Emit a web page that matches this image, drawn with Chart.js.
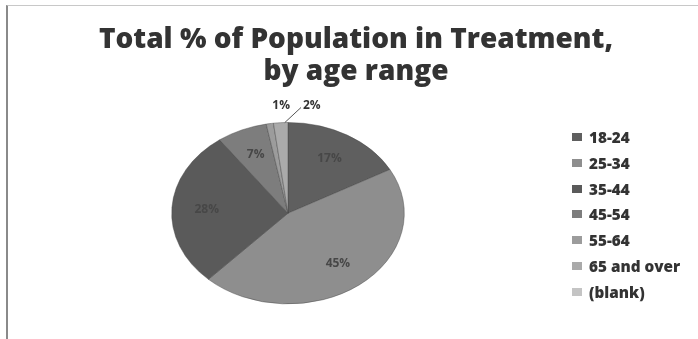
<!DOCTYPE html>
<html>
<head>
<meta charset="utf-8">
<script src="https://cdn.jsdelivr.net/npm/chart.js@4/dist/chart.umd.min.js"></script>
<style>
  html, body { margin: 0; padding: 0; background: #fff; }
  #wrap { position: relative; width: 698px; height: 339px; overflow: hidden; }
  #frame { position: absolute; left: 6px; top: 5px; width: 690px; height: 340px;
           border-left: 2px solid #8a8a8a; border-top: 1px solid #c8c8c8; }
  #legend { position: absolute; left: 572px; top: 128px; margin: 0; padding: 0; list-style: none;
            font-family: "Open Sans", sans-serif; font-weight: 800; font-size: 15.3px; color: #333; }
  #legend li { height: 25.8px; line-height: 18px; white-space: nowrap; }
  #legend span { display: inline-block; width: 10px; height: 8px; margin-right: 7px; vertical-align: 2px; }
</style>
</head>
<body>
<div id="wrap">
  <div id="frame"></div>
  <canvas id="pieChart" width="698" height="339"></canvas>
  <ul id="legend"></ul>
</div>
<script>
// --- Data ---
const ageRanges = ['18-24', '25-34', '35-44', '45-54', '55-64', '65 and over', '(blank)'];
const percentValues = [17, 45, 28, 7, 1, 2, 0];
const sliceColors = ['#5f5f5f', '#8e8e8e', '#5a5a5a', '#7d7d7d', '#9c9c9c', '#aaaaaa', '#c4c4c4'];
const titleLines = ['Total % of Population in Treatment,', 'by age range'];

const tilt = 0.78; // squash the pie vertically like the 3D Excel pie

// empty side boxes so the pie sits left of the legend, title keeps full width
function spacerBox(pos, size) {
    return {
        position: pos, weight: 0, fullSize: false, width: size, height: 0,
        options: {},
        isHorizontal() { return false; },
        update(maxWidth, maxHeight) { this.width = size; this.height = maxHeight; },
        draw() {}
    };
}
const spacerPlugin = {
    id: 'spacers',
    beforeInit(chart) {
        Chart.layouts.addBox(chart, spacerBox('left', 157));
        Chart.layouts.addBox(chart, spacerBox('right', 293));
    }
};

// squash arcs and draw percent labels
const tiltPlugin = {
    id: 'tilt',
    beforeDatasetsDraw(chart) {
        const arc = chart.getDatasetMeta(0).data[0];
        const ctx = chart.ctx;
        ctx.save();
        ctx.translate(arc.x, arc.y);
        ctx.scale(1, tilt);
        ctx.translate(-arc.x, -arc.y);
    },
    afterDatasetsDraw(chart) {
        const ctx = chart.ctx;
        ctx.restore();
        const arcs = chart.getDatasetMeta(0).data;
        ctx.save();
        ctx.font = 'bold 12px "Open Sans", sans-serif';
        ctx.textBaseline = 'middle';
        let smallCount = 0;
        arcs.forEach(function(a, i) {
            const v = percentValues[i];
            if (!v) return;
            const mid = (a.startAngle + a.endAngle) / 2;
            if (v >= 5) {
                const f = 0.7 * a.outerRadius;
                ctx.fillStyle = '#474747';
                ctx.textAlign = 'center';
                ctx.fillText(v + '%', a.x + Math.cos(mid) * f, a.y + Math.sin(mid) * f * tilt);
            } else {
                // small slices: labels above the pie top
                const ly = a.y - a.outerRadius * tilt - 17;
                ctx.fillStyle = '#333';
                if (smallCount === 0) {
                    ctx.textAlign = 'right';
                    ctx.fillText(v + '%', a.x + 2, ly);
                } else {
                    const lx = a.x + 15;
                    ctx.textAlign = 'left';
                    ctx.fillText(v + '%', lx, ly);
                    const ex = a.x + Math.cos(mid) * a.outerRadius;
                    const ey = a.y + Math.sin(mid) * a.outerRadius * tilt;
                    ctx.strokeStyle = '#555';
                    ctx.lineWidth = 1;
                    ctx.beginPath();
                    ctx.moveTo(lx - 2, ly + 2);
                    ctx.lineTo(ex + 4, ey);
                    ctx.stroke();
                }
                smallCount++;
            }
        });
        ctx.restore();
    }
};

const chart = new Chart(document.getElementById('pieChart'), {
    type: 'pie',
    data: {
        labels: ageRanges,
        datasets: [{
            data: percentValues,
            backgroundColor: sliceColors,
            borderColor: 'rgba(70,70,70,0.5)',
            borderWidth: 1
        }]
    },
    options: {
        responsive: false,
        animation: false,
        layout: { padding: { left: 14, right: 0, top: 0, bottom: 9 } },
        plugins: {
            legend: { display: false },
            tooltip: { enabled: false },
            title: {
                display: true,
                text: titleLines,
                color: '#333',
                font: { family: '"Open Sans", sans-serif', size: 28, weight: 800, lineHeight: 1.15 },
                padding: { top: 24, bottom: 8 }
            }
        }
    },
    plugins: [spacerPlugin, tiltPlugin]
});

// --- Legend from the chart's own items ---
const legendEl = document.getElementById('legend');
chart.options.plugins.legend.labels.generateLabels(chart).forEach(function(item) {
    const li = document.createElement('li');
    const box = document.createElement('span');
    box.style.background = item.fillStyle;
    li.appendChild(box);
    li.appendChild(document.createTextNode(item.text));
    legendEl.appendChild(li);
});
</script>
</body>
</html>
